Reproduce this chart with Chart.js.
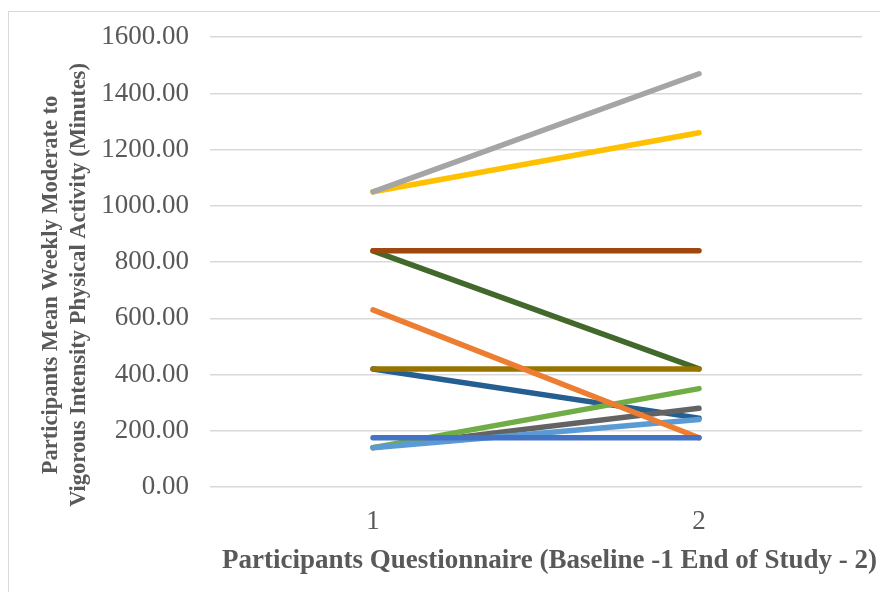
<!DOCTYPE html>
<html>
<head>
<meta charset="utf-8">
<script src="https://cdn.jsdelivr.net/npm/chart.js@4/dist/chart.umd.min.js"></script>
<style>
  html, body { margin: 0; padding: 0; background: #ffffff; }
  #wrap { position: relative; width: 880px; height: 592px; overflow: hidden; }
  #frame { position: absolute; left: 8px; top: 11px; width: 900px; height: 620px;
           border-left: 1px solid #d9d9d9; border-top: 1px solid #d9d9d9; }
  canvas { position: absolute; left: 0; top: 0; }
</style>
</head>
<body>
<div id="wrap">
  <div id="frame"></div>
  <canvas id="chart" width="880" height="592"></canvas>
</div>
<script>
// Questionnaire time points: 1 = baseline, 2 = end of study
const categories = ['1', '2'];

// Mean weekly moderate-to-vigorous activity (minutes) per participant
const participant1 = [175, 175];
const participant2 = [630, 175];
const participant3 = [1050, 1470];
const participant4 = [1050, 1260];
const participant5 = [140, 240];
const participant6 = [140, 350];
const participant8 = [840, 840];
const participant9 = [140, 280];
const participant10 = [420, 420];
const participant11 = [420, 245];
const participant12 = [840, 420];

// Y axis tick values
const yTicks = [0, 200, 400, 600, 800, 1000, 1200, 1400, 1600];

const xTitle = 'Participants Questionnaire (Baseline -1 End of Study - 2)';
const yTitle = ['Participants Mean Weekly Moderate to',
                'Vigorous Intensity Physical Activity (Minutes)'];

const series = [
  { label: 'Participant 1',  data: participant1,  color: '#4472c4' },
  { label: 'Participant 2',  data: participant2,  color: '#ed7d31' },
  { label: 'Participant 3',  data: participant3,  color: '#a5a5a5' },
  { label: 'Participant 4',  data: participant4,  color: '#ffc000' },
  { label: 'Participant 5',  data: participant5,  color: '#5b9bd5' },
  { label: 'Participant 6',  data: participant6,  color: '#70ad47' },
  { label: 'Participant 8',  data: participant8,  color: '#9e480e' },
  { label: 'Participant 9',  data: participant9,  color: '#636363' },
  { label: 'Participant 10', data: participant10, color: '#997300' },
  { label: 'Participant 11', data: participant11, color: '#255e91' },
  { label: 'Participant 12', data: participant12, color: '#43682b' }
];

const textColor = '#595959';
const serif = "'Liberation Serif', 'Times New Roman', serif";

// Draws both axis titles in bold serif
const axisTitles = {
  id: 'axisTitles',
  afterDraw(chart) {
    const ctx = chart.ctx;
    ctx.save();
    ctx.fillStyle = textColor;
    ctx.textAlign = 'center';
    ctx.textBaseline = 'alphabetic';
    ctx.font = 'bold 27px ' + serif;
    ctx.fillText(xTitle, 549.5, 568);

    ctx.font = 'bold 22.5px ' + serif;
    const baselines = [57, 85];
    yTitle.forEach((line, i) => {
      ctx.save();
      ctx.translate(baselines[i], 285);
      ctx.rotate(-Math.PI / 2);
      ctx.fillText(line, 0, 0);
      ctx.restore();
    });
    ctx.restore();
  }
};

new Chart(document.getElementById('chart'), {
  type: 'line',
  data: {
    labels: categories,
    datasets: series.map(s => ({
      label: s.label,
      data: s.data,
      borderColor: s.color,
      backgroundColor: s.color,
      borderWidth: 5.5,
      borderCapStyle: 'round',
      borderJoinStyle: 'round',
      pointRadius: 0,
      pointHoverRadius: 0,
      tension: 0,
      fill: false
    }))
  },
  options: {
    responsive: false,
    animation: false,
    devicePixelRatio: 1,
    layout: { padding: { top: 37, right: 18, left: 0, bottom: 0 } },
    plugins: {
      legend: { display: false },
      tooltip: { enabled: false },
      title: { display: false }
    },
    scales: {
      x: {
        type: 'category',
        offset: true,
        grid: { display: false },
        border: { display: false },
        ticks: {
          color: textColor,
          font: { family: serif, size: 27 },
          padding: 11,
          maxRotation: 0
        },
        afterFit(scale) { scale.height = 105; }
      },
      y: {
        min: 0,
        max: 1600,
        afterBuildTicks(scale) { scale.ticks = yTicks.map(v => ({ value: v })); },
        ticks: {
          color: textColor,
          font: { family: serif, size: 27 },
          padding: 21,
          callback: v => Number(v).toFixed(2)
        },
        grid: { color: '#d9d9d9', lineWidth: 1.5, drawTicks: false },
        border: { display: false },
        afterFit(scale) { scale.width = 210; }
      }
    }
  },
  plugins: [axisTitles]
});
</script>
</body>
</html>
